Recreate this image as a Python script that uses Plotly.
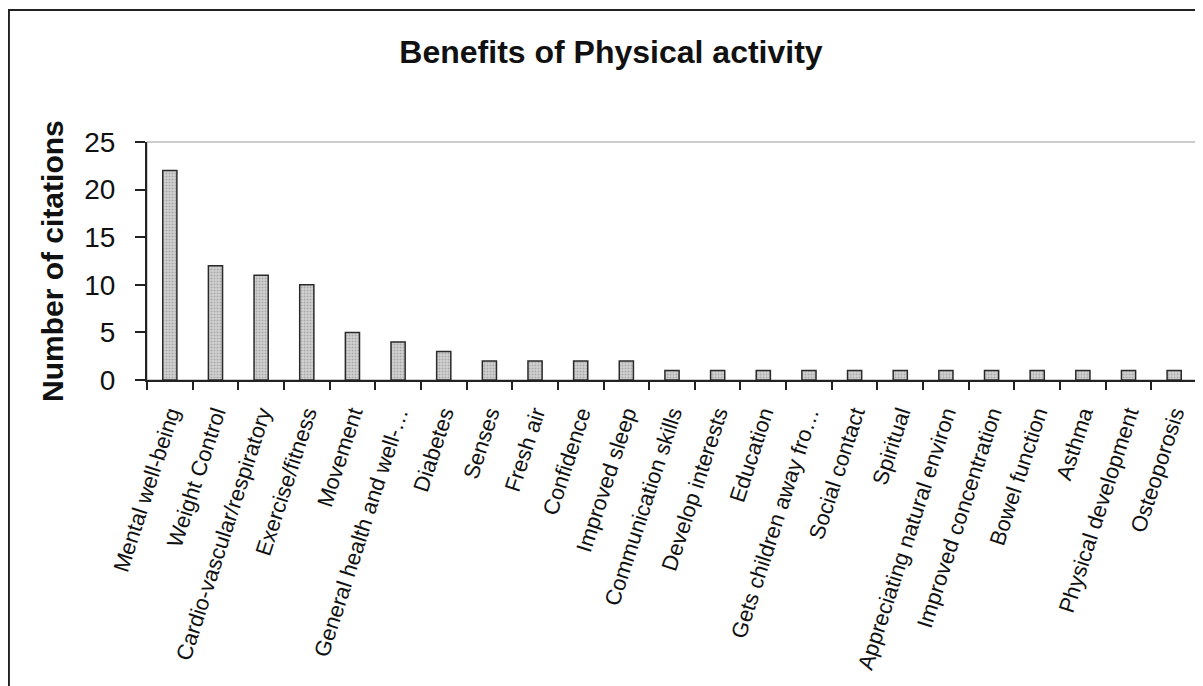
import plotly.graph_objects as go

benefits = [
    "Mental well-being", "Weight Control", "Cardio-vascular/respiratory",
    "Exercise/fitness", "Movement", "General health and well-…", "Diabetes",
    "Senses", "Fresh air", "Confidence", "Improved sleep",
    "Communication skills", "Develop interests", "Education",
    "Gets children away fro…", "Social contact", "Spiritual",
    "Appreciating natural environ", "Improved concentration", "Bowel function",
    "Asthma", "Physical development", "Osteoporosis",
]
citations = [22, 12, 11, 10, 5, 4, 3, 2, 2, 2, 2, 1, 1, 1, 1, 1, 1, 1, 1, 1, 1, 1, 1]
y_ticks = [0, 5, 10, 15, 20, 25]

FONT = "Arial, Liberation Sans, sans-serif"

fig = go.Figure()
fig.add_trace(go.Bar(
    x=benefits,
    y=citations,
    marker=dict(
        color="#c2c2c2",
        line=dict(color="#2a2a2a", width=1.5),
        pattern=dict(shape=".", fgcolor="#808080", bgcolor="#d2d2d2", size=3, solidity=0.35),
    ),
    showlegend=False,
))

# plot-area frame (thin grey) and outer chart border
fig.add_shape(type="rect", xref="paper", yref="paper", x0=0, x1=1, y0=0, y1=1,
              line=dict(color="#9a9a9a", width=1), layer="below")
fig.add_shape(type="rect", xref="paper", yref="paper", x0=-0.1315, x1=1.05, y0=-2, y1=1.555,
              line=dict(color="#222", width=2))

fig.add_annotation(
    text="<b>Number of citations</b>", textangle=-90,
    xref="paper", yref="paper", x=-0.0905, y=0.5,
    xanchor="center", yanchor="middle", showarrow=False,
    font=dict(family=FONT, size=30, color="#111"),
)

fig.update_layout(
    width=1195, height=678,
    margin=dict(l=139, r=6, t=134, b=306, autoexpand=False),
    paper_bgcolor="white", plot_bgcolor="white",
    bargap=0.69,
    title=dict(text="<b>Benefits of Physical activity</b>", x=0.5046, y=0.935,
               xanchor="center", yanchor="middle",
               font=dict(family=FONT, size=32, color="#111")),
    font=dict(family=FONT, color="#111"),
)
fig.update_xaxes(
    tickangle=-72, tickfont=dict(size=22, family=FONT, color="#111"),
    showline=True, linecolor="#222", linewidth=2,
    ticks="outside", ticklen=8, tickcolor="#222", tickwidth=1.5,
    tickson="boundaries", ticklabelstandoff=10, showgrid=False, automargin=False,
)
fig.update_yaxes(
    range=[0, 25], tickvals=y_ticks, tickfont=dict(size=28, family=FONT, color="#111"),
    showline=True, linecolor="#222", linewidth=2,
    ticks="outside", ticklen=10, tickcolor="#222", tickwidth=1.5,
    ticklabelstandoff=14, showgrid=False, zeroline=False, automargin=False,
)

fig.write_html("out.html")
